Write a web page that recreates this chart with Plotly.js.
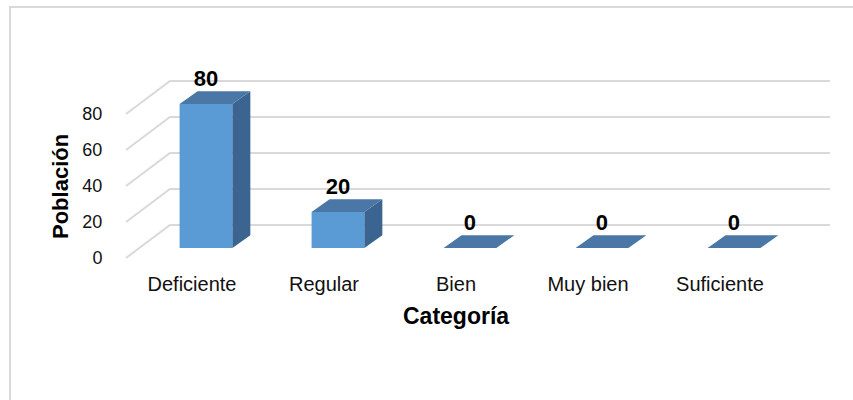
<!DOCTYPE html>
<html>
<head>
<meta charset="utf-8">
<script src="https://cdn.plot.ly/plotly-3.0.1.min.js"></script>
<style>
  html, body { margin: 0; padding: 0; background: #fff; overflow: hidden; }
  #chart { width: 853px; height: 400px; }
</style>
</head>
<body>
<div id="chart"></div>
<script>
// ---- data ----
const categories = ['Deficiente', 'Regular', 'Bien', 'Muy bien', 'Suficiente'];
const poblacion = [80, 20, 0, 0, 0];
const yTickValues = [0, 20, 40, 60, 80];
const yTickLabels = ['0', '20', '40', '60', '80'];
const xTitle = 'Categoría';
const yTitle = 'Población';

// ---- 3D look (pseudo-perspective, in axis units) ----
const BAR_W = 0.4;        // bar width (category units)
const FRONT_DX = 0.106;   // bar front plane offset from the axis plane
const FRONT_DY = 5.5;
const BAR_DX = 0.136;     // bar depth
const BAR_DY = 7.2;
const WALL_DX = 0.333;    // back wall offset
const WALL_DY = 18.33;

const FRONT = '#5b9bd5', TOP = '#4a77a5', SIDE = '#3b6590';
const FONT = 'Liberation Sans, Arial, sans-serif';

// layout geometry (pixels)
const L = 120, R = 19, T = 78, B = 140, WIDTH = 853, HEIGHT = 400;
const PW = WIDTH - L - R, PH = HEIGHT - T - B;
const PX_X = 132, PX_Y = 1.8;
const xMin = -0.5 - 6 / PX_X, xMax = xMin + PW / PX_X;
const yMin = -2 / PX_Y, yMax = yMin + PH / PX_Y;
const xLast = categories.length - 0.5 + WALL_DX;

// back-wall gridlines (as shapes below the bars)
const shapes = yTickValues.map(v => ({
  type: 'path', layer: 'below', xref: 'x', yref: 'y',
  path: `M ${-0.5},${v} L ${-0.5 + WALL_DX},${v + WALL_DY} L ${xLast},${v + WALL_DY}`,
  line: { color: '#d9d9d9', width: 2 }
}));
// outer chart frame
const px2paperX = p => (p - L) / PW;
const px2paperY = p => (HEIGHT - B - p) / PH;
shapes.push({
  type: 'rect', xref: 'paper', yref: 'paper', layer: 'above',
  x0: px2paperX(10), x1: px2paperX(WIDTH + 20),
  y0: px2paperY(HEIGHT + 20), y1: px2paperY(7),
  line: { color: '#d9d9d9', width: 2 }, fillcolor: 'rgba(0,0,0,0)'
});

// faces
const xs = categories.map((c, i) => i + FRONT_DX);
const topX = [], topY = [], sideX = [], sideY = [];
poblacion.forEach((v, i) => {
  const xl = xs[i] - BAR_W / 2, xr = xs[i] + BAR_W / 2;
  const yt = v + FRONT_DY;
  topX.push(xl, xr, xr + BAR_DX, xl + BAR_DX, xl, null);
  topY.push(yt, yt, yt + BAR_DY, yt + BAR_DY, yt, null);
  if (v > 0) {
    sideX.push(xr, xr, xr + BAR_DX, xr + BAR_DX, xr, null);
    sideY.push(FRONT_DY, yt, yt + BAR_DY, FRONT_DY + BAR_DY, FRONT_DY, null);
  }
});

const traces = [
  {
    type: 'bar', x: xs, y: poblacion, base: FRONT_DY, width: BAR_W,
    marker: { color: FRONT, line: { width: 0 } }, hoverinfo: 'skip'
  },
  {
    type: 'scatter', mode: 'lines', x: sideX, y: sideY, fill: 'toself',
    fillcolor: SIDE, line: { width: 0, color: SIDE }, hoverinfo: 'skip'
  },
  {
    type: 'scatter', mode: 'lines', x: topX, y: topY, fill: 'toself',
    fillcolor: TOP, line: { width: 0, color: TOP }, hoverinfo: 'skip'
  },
  {
    type: 'scatter', mode: 'text', x: xs,
    y: poblacion.map(v => v + FRONT_DY + 13.3),
    text: poblacion.map(String), textposition: 'middle center',
    textfont: { family: FONT, size: 22, color: '#000', weight: 'bold' },
    cliponaxis: false, hoverinfo: 'skip'
  }
];

const layout = {
  width: WIDTH, height: HEIGHT,
  margin: { l: L, r: R, t: T, b: B, pad: 0 },
  paper_bgcolor: '#fff', plot_bgcolor: 'rgba(0,0,0,0)',
  showlegend: false, barmode: 'overlay',
  xaxis: {
    range: [xMin, xMax], tickmode: 'array',
    tickvals: categories.map((c, i) => i), ticktext: categories,
    showgrid: false, zeroline: false, showline: false,
    ticks: 'outside', ticklen: 6, tickcolor: 'rgba(0,0,0,0)',
    tickfont: { family: FONT, size: 20, color: '#111' }, fixedrange: true
  },
  yaxis: {
    range: [yMin, yMax], tickmode: 'array',
    tickvals: yTickValues, ticktext: yTickLabels,
    showgrid: false, zeroline: false, showline: false,
    ticks: 'outside', ticklen: 13, tickcolor: 'rgba(0,0,0,0)',
    tickfont: { family: FONT, size: 18, color: '#111' }, fixedrange: true
  },
  shapes: shapes,
  annotations: [
    {
      text: xTitle, xref: 'x', yref: 'paper', x: 2, y: px2paperY(316),
      xanchor: 'center', yanchor: 'middle', showarrow: false,
      font: { family: FONT, size: 23, color: '#000', weight: 'bold' }
    },
    {
      text: yTitle, xref: 'paper', yref: 'paper', x: px2paperX(60), y: px2paperY(186),
      xanchor: 'center', yanchor: 'middle', showarrow: false, textangle: -90,
      font: { family: FONT, size: 22, color: '#000', weight: 'bold' }
    }
  ]
};

Plotly.newPlot('chart', traces, layout, { staticPlot: true, displayModeBar: false });
</script>
</body>
</html>
